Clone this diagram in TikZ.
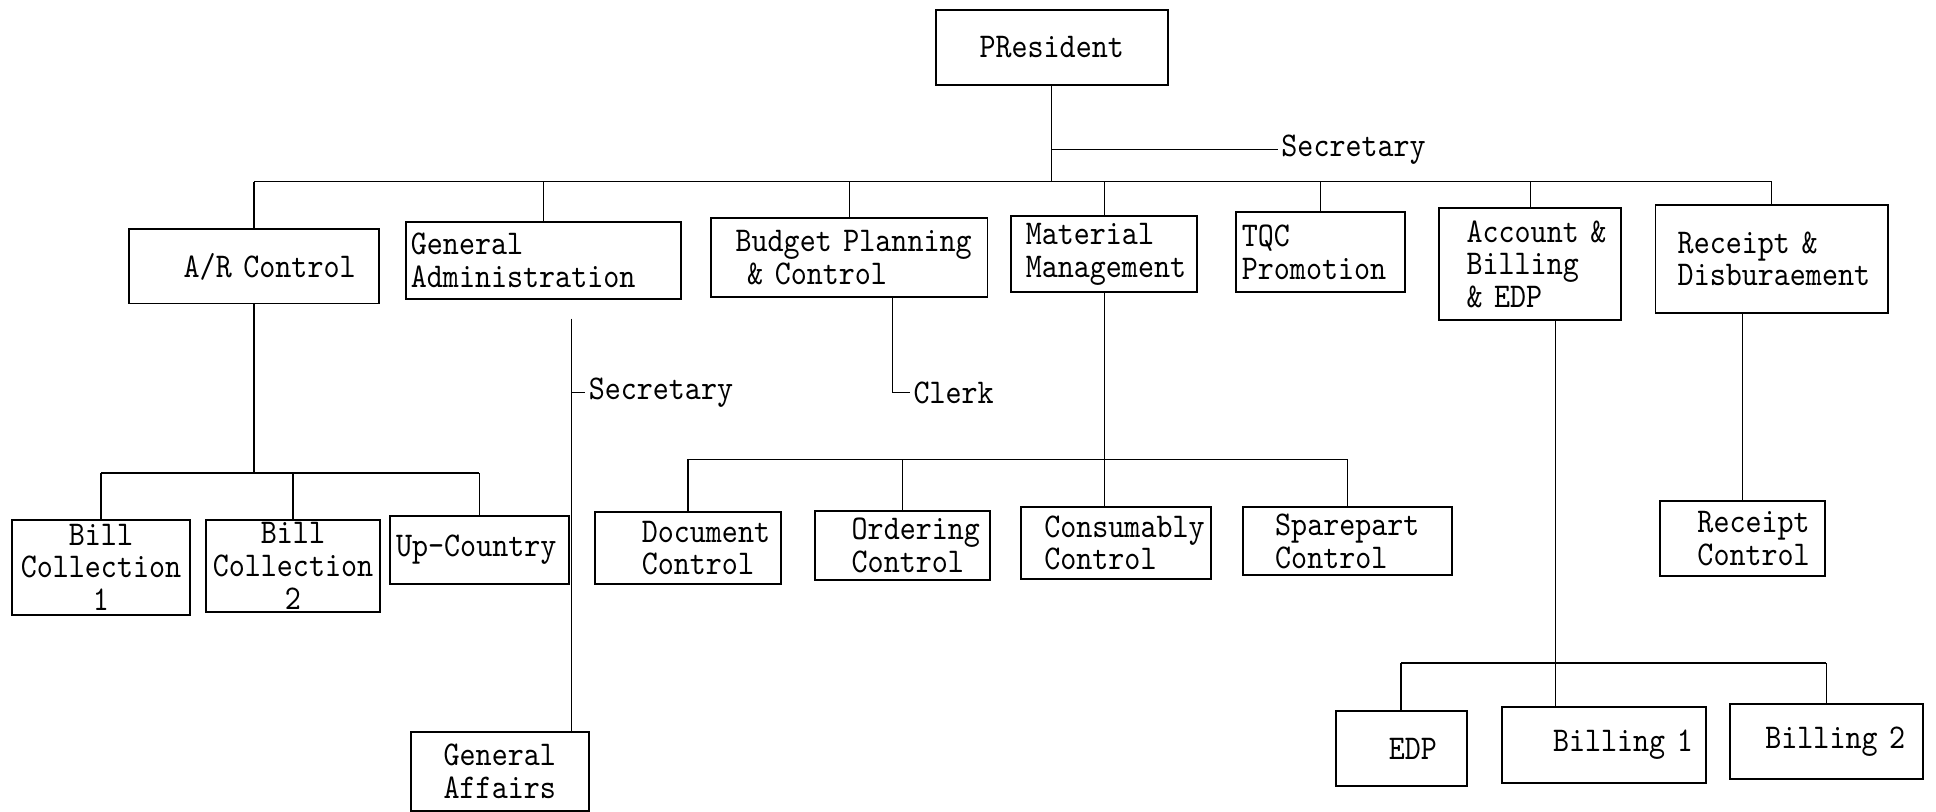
\documentclass[tikz,border=0pt]{standalone}
\usepackage{fontspec}
\newfontfamily\orgtt[FakeStretch=0.88, HyphenChar=None]{lmmono10-regular.otf}
\newcommand\orgfont{\orgtt\fontsize{16}{15}\selectfont}
\tikzset{
  orgbox/.style={draw, line width=0.9pt, inner sep=0pt, font=\orgfont},
  lbl/.style={inner xsep=0.05cm, inner ysep=0pt, font=\orgfont},
  wire/.style={line width=0.6pt}
}
% \orgunit[align]{name}{x1}{y1}{x2}{y2}{left pad}{text}
\newcommand\orgunit[8][left]{%
  \pgfmathsetlengthmacro\ouw{(#5-#3)*0.02cm}%
  \pgfmathsetlengthmacro\ouh{(#6-#4)*0.02cm}%
  \pgfmathsetlengthmacro\outw{(#5-#3-2*#7)*0.02cm}%
  \node[orgbox, anchor=north west, align=#1, minimum width=\ouw,
        minimum height=\ouh, text width=\outw] (#2) at (#3,#4) {#8};}
\begin{document}
\begin{tikzpicture}[x=0.02cm, y=-0.02cm]
\useasboundingbox (0,0) rectangle (1568,657);

% top level
\orgunit[center]{pres}{757}{7}{945}{68}{0}{PResident}
\orgunit{ar}{104}{185}{306}{245}{44}{A/R~Control}
\orgunit{ga}{328}{179}{551}{241}{4}{General\\Administration}
\orgunit{bp}{575}{176}{799}{240}{20}{Budget~Planning\\~\&~Control}
\orgunit{mm}{818}{174}{969}{236}{12}{Material\\Management}
\orgunit{tqc}{1000}{171}{1137}{236}{5}{TQC\\Promotion}
\orgunit{abe}{1165}{168}{1312}{258}{22}{Account~\&\\Billing\\\&~EDP}
\orgunit{rd}{1340}{165}{1528}{253}{18}{Receipt~\&\\Disburaement}

% second level
\orgunit[center]{bc1}{9}{420}{153}{497}{0}{Bill\\Collection\\1}
\orgunit[center]{bc2}{166}{420}{307}{495}{0}{Bill\\Collection\\2}
\orgunit{uc}{315}{417}{460}{472}{5}{Up-Country}
\orgunit[center]{gaff}{332}{592}{476}{656}{0}{General\\Affairs}
\orgunit{dc}{481}{414}{632}{472}{38}{Document\\Control}
\orgunit{oc}{659}{413}{801}{469}{30}{Ordering\\Control}
\orgunit{cc}{826}{410}{980}{468}{19}{Consumably\\Control}
\orgunit{sc}{1006}{410}{1175}{465}{26}{Sparepart\\Control}
\orgunit{rc}{1344}{405}{1477}{466}{30}{Receipt\\Control}
\orgunit{edp}{1081}{575}{1187}{636}{43}{EDP}
\orgunit{b1}{1216}{572}{1381}{633}{41}{Billing~1}
\orgunit{b2}{1400}{569}{1557}{630}{29}{Billing~2}

% staff labels
\node[lbl, anchor=west] (sec1) at (1035,121) {Secretary};
\node[lbl, anchor=west] (sec2) at (474,318) {Secretary};
\node[lbl, anchor=west] (clerk) at (737,318) {Clerk};

% president to departments
\coordinate (topbus) at (854,147);
\draw[wire] (pres.south) -- (pres.south |- topbus);
\draw[wire] (pres.south |- sec1.west) -- (sec1.west);
\draw[wire] (ar.north |- topbus) -- (rd.north |- topbus);
\foreach \n in {ar,ga,bp,mm,tqc,abe,rd}
  \draw[wire] (\n.north) -- (\n.north |- topbus);

% A/R control
\coordinate (arbus) at (204,383);
\draw[wire] (ar.south) -- (ar.south |- arbus);
\draw[wire] (bc1.north |- arbus) -- (uc.north |- arbus);
\foreach \n in {bc1,bc2,uc}
  \draw[wire] (\n.north) -- (\n.north |- arbus);

% general administration
\coordinate (gadrop) at (463,258);
\draw[wire] (gadrop) -- (gadrop |- gaff.north);
\draw[wire] (gadrop |- sec2.west) -- (sec2.west);

% budget planning
\coordinate (bpdrop) at (723,318);
\draw[wire] (bp.south -| bpdrop) |- (clerk.west);

% material management
\coordinate (mmbus) at (892,372);
\draw[wire] (mm.south) -- (mm.south |- cc.north);
\draw[wire] (dc.north |- mmbus) -- (sc.north |- mmbus);
\foreach \n in {dc,oc,sc}
  \draw[wire] (\n.north) -- (\n.north |- mmbus);

% receipt & disbursement
\draw[wire] (rc.north |- rd.south) -- (rc.north);

% account & billing
\coordinate (abbus) at (1260,537);
\draw[wire] (abe.south -| abbus) -- (abbus |- b1.north);
\draw[wire] (edp.north |- abbus) -- (b2.north |- abbus);
\foreach \n in {edp,b2}
  \draw[wire] (\n.north) -- (\n.north |- abbus);
\end{tikzpicture}
\end{document}
